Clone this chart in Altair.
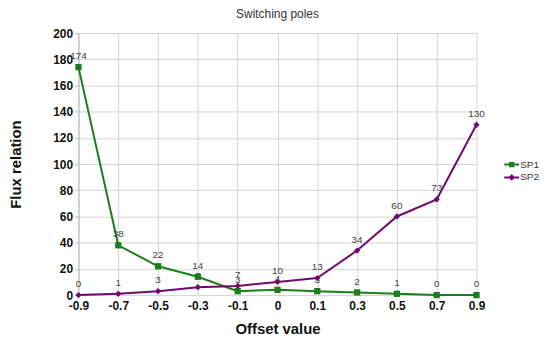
import altair as alt
import pandas as pd

offsets = ["-0.9", "-0.7", "-0.5", "-0.3", "-0.1", "0", "0.1", "0.3", "0.5", "0.7", "0.9"]
sp1 = [174, 38, 22, 14, 3, 4, 3, 2, 1, 0, 0]
sp2 = [0, 1, 3, 6, 7, 10, 13, 34, 60, 73, 130]
series = ["SP1", "SP2"]
colors = ["#1b7d1b", "#6e0b6b"]
y_ticks = list(range(0, 201, 20))

rows = []
for o, a, b in zip(offsets, sp1, sp2):
    rows.append({"offset": o, "value": a, "series": "SP1"})
    rows.append({"offset": o, "value": b, "series": "SP2"})
df = pd.DataFrame(rows)

FONT = "Liberation Sans"

x_enc = alt.X(
    "offset:N",
    sort=offsets,
    scale=alt.Scale(type="point", padding=0),
    axis=alt.Axis(
        title="Offset value",
        labelAngle=0,
        labelFont=FONT,
        labelFontSize=12,
        labelFontWeight="bold",
        labelColor="#111",
        labelPadding=6,
        ticks=False,
        domain=False,
        grid=True,
        gridColor="#d4d4d4",
        titleFont=FONT,
        titleFontSize=15,
        titleFontWeight="bold",
        titleColor="#111",
        titlePadding=10,
    ),
)
y_enc = alt.Y(
    "value:Q",
    scale=alt.Scale(domain=[0, 200], nice=False),
    axis=alt.Axis(
        title="Flux relation",
        values=y_ticks,
        labelFont=FONT,
        labelFontSize=12,
        labelFontWeight="bold",
        labelColor="#111",
        labelPadding=2,
        tickSize=4,
        tickColor="#bbb",
        domainColor="#bbb",
        grid=True,
        gridColor="#d4d4d4",
        titleFont=FONT,
        titleFontSize=15,
        titleFontWeight="bold",
        titleColor="#111",
        titleX=-55,
    ),
)

sq = "M-1,-0.14L1,-0.14L1,0.14L-1,0.14Z M-0.36,-0.36L0.36,-0.36L0.36,0.36L-0.36,0.36Z"
dm = "M-1,-0.14L1,-0.14L1,0.14L-1,0.14Z M0,-0.45L0.45,0L0,0.45L-0.45,0Z"

color_scale = alt.Scale(domain=series, range=colors)

leg = alt.Legend(
    title=None,
    orient="none",
    legendX=429,
    legendY=125,
    labelFont=FONT,
    labelFontSize=10,
    labelColor="#333",
    symbolSize=225,
    symbolOpacity=1,
    symbolStrokeWidth=0,
    rowPadding=-1,
    labelOffset=1,
)

legend_layer = alt.Chart(df).mark_point(filled=True, opacity=0).encode(
    x=x_enc,
    y=y_enc,
    color=alt.Color("series:N", scale=color_scale, legend=leg),
    shape=alt.Shape("series:N", scale=alt.Scale(domain=series, range=[sq, dm]), legend=leg),
)

line = alt.Chart(df).mark_line(strokeWidth=2).encode(
    x=x_enc,
    y=y_enc,
    color=alt.Color("series:N", scale=color_scale),
)

pts1 = alt.Chart(df).transform_filter(alt.datum.series == "SP1").mark_point(
    filled=True, opacity=1, shape="square", size=40, color=colors[0]
).encode(x=x_enc, y=y_enc)

pts2 = alt.Chart(df).transform_filter(alt.datum.series == "SP2").mark_point(
    filled=True, opacity=1, shape="diamond", size=40, color=colors[1]
).encode(x=x_enc, y=y_enc)

labels = alt.Chart(df).mark_text(dy=-11, font=FONT, fontSize=10, color="#444").encode(
    x=x_enc,
    y=y_enc,
    text="value:Q",
)

chart = (
    alt.layer(legend_layer, line, labels, pts1, pts2)
    .properties(
        width=401,
        height=264,
        title=alt.TitleParams(
            "Switching poles", font=FONT, fontSize=12, fontWeight="normal", color="#333", offset=6
        ),
        autosize=alt.AutoSizeParams(type="none"),
        padding={"left": 71, "top": 24, "right": 66, "bottom": 40},
    )
    .configure_view(stroke=None)
)

chart.save("out.html", embed_options={"renderer": "svg", "actions": False})
